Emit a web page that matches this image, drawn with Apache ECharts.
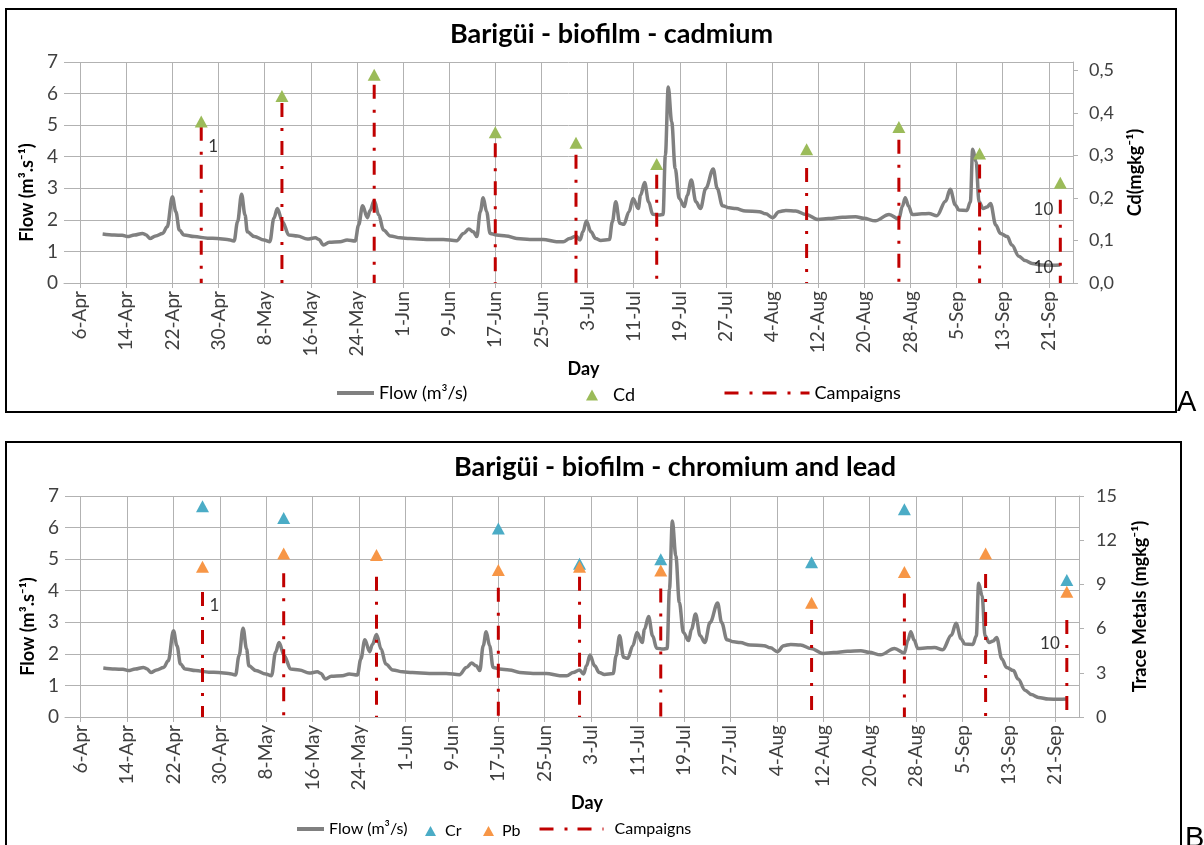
<!DOCTYPE html>
<html>
<head>
<meta charset="utf-8">
<title>Barigüi - biofilm</title>
<script src="https://cdn.jsdelivr.net/npm/echarts@6/dist/echarts.min.js"></script>
<style>
  html, body { margin: 0; padding: 0; background: #fff; }
  #chart { width: 1204px; height: 845px; }
</style>
</head>
<body>
<div id="chart"></div>
<script>
// days counted from 6-Apr (day 0)
const tickDays = [0, 8, 16, 24, 32, 40, 48, 56, 64, 72, 80, 88, 96, 104, 112, 120, 128, 136, 144, 152, 160, 168];
const tickLabels = ['6-Apr', '14-Apr', '22-Apr', '30-Apr', '8-May', '16-May', '24-May', '1-Jun', '9-Jun', '17-Jun', '25-Jun',
  '3-Jul', '11-Jul', '19-Jul', '27-Jul', '4-Aug', '12-Aug', '20-Aug', '28-Aug', '5-Sep', '13-Sep', '21-Sep'];

// flow (m3/s)
const flowDays = [3.9, 5.9, 7.3, 8.2, 9.4, 10.8, 11.4, 12.1, 13.1, 14.3, 15.1, 16.0, 16.6, 17.2, 18.0, 19.8, 22.1, 23.8, 25.5, 26.7,
  27.3, 28.0, 28.6, 29.0, 30.2, 31.9, 32.9, 33.6, 34.2, 35.1, 36.2, 37.7, 39.4, 40.8, 41.4, 42.2, 43.2, 45.1, 46.3, 47.7,
  48.3, 49.0, 49.8, 50.3, 51.0, 51.8, 52.6, 53.8, 55.5, 57.2, 60.1, 63.0, 65.3, 66.5, 67.4, 68.2, 68.8, 69.4, 69.9, 70.5,
  71.1, 72.2, 73.9, 75.7, 78.0, 80.3, 82.6, 83.8, 84.9, 86.0, 86.7, 87.2, 87.8, 88.6, 89.4, 90.3, 91.8, 92.3, 92.9, 93.6,
  94.3, 95.2, 95.9, 96.8, 97.2, 97.9, 98.6, 99.3, 100.4, 101.1, 101.5, 102.0, 102.6, 103.2, 103.9, 104.8, 105.3, 106.0, 106.8, 107.6,
  108.5, 109.8, 110.5, 111.4, 112.6, 113.7, 115.4, 117.8, 118.9, 120.1, 121.2, 122.4, 124.1, 125.9, 128.0, 129.8, 132.2, 134.5, 135.9, 137.9,
  140.3, 142.0, 142.6, 143.1, 143.7, 144.3, 146.0, 147.2, 148.6, 150.1, 150.9, 151.8, 152.4, 153.8, 154.4, 154.8, 155.4, 155.9, 156.6, 157.3,
  157.9, 158.8, 159.6, 160.8, 161.6, 162.8, 163.9, 165.1, 166.8, 168.6, 170.0];
const flowValues = [1.55, 1.52, 1.51, 1.47, 1.52, 1.57, 1.53, 1.41, 1.49, 1.57, 1.78, 2.73, 2.26, 1.68, 1.52, 1.47, 1.42, 1.41, 1.38, 1.33,
  1.94, 2.81, 2.15, 1.62, 1.47, 1.36, 1.31, 2.05, 2.36, 1.94, 1.52, 1.49, 1.39, 1.43, 1.38, 1.20, 1.29, 1.31, 1.36, 1.33,
  1.84, 2.45, 2.07, 2.30, 2.61, 2.15, 1.68, 1.49, 1.43, 1.41, 1.38, 1.38, 1.34, 1.57, 1.71, 1.62, 1.47, 2.26, 2.70, 2.26,
  1.57, 1.52, 1.49, 1.41, 1.38, 1.38, 1.31, 1.31, 1.41, 1.49, 1.36, 1.62, 1.96, 1.62, 1.41, 1.35, 1.38, 1.94, 2.57, 1.89,
  1.86, 2.26, 2.68, 2.36, 2.78, 3.18, 2.57, 2.18, 2.15, 2.17, 4.05, 6.21, 5.10, 3.63, 2.68, 2.42, 2.78, 3.26, 2.57, 2.36,
  2.99, 3.61, 2.99, 2.45, 2.38, 2.36, 2.28, 2.26, 2.19, 2.07, 2.26, 2.30, 2.28, 2.17, 2.01, 2.04, 2.08, 2.10, 2.05, 1.97,
  2.17, 2.03, 2.43, 2.70, 2.43, 2.17, 2.19, 2.20, 2.13, 2.59, 2.97, 2.47, 2.31, 2.30, 2.57, 4.24, 3.84, 2.57, 2.36, 2.41,
  2.52, 1.84, 1.57, 1.47, 1.20, 0.85, 0.71, 0.62, 0.57, 0.56, 0.57];

// sampling campaigns 1..10
const campaignDays = [21, 35, 51, 72, 86, 100, 126, 142, 156, 170];
const campaignTopA = [4.95, 5.70, 6.28, 4.43, 4.06, 3.43, 3.64, 4.54, 3.75, 2.64];
const campaignTopB = [3.96, 4.55, 4.44, 4.09, 4.44, 4.07, 3.07, 3.91, 4.53, 3.07];

// metals (mg/kg)
const cdValues = [0.38, 0.44, 0.49, 0.355, 0.33, 0.28, 0.315, 0.367, 0.305, 0.236];
const crDays = [21, 35, 72, 86, 100, 126, 142, 170];
const crValues = [14.3, 13.5, 12.8, 10.4, 10.7, 10.5, 14.1, 9.3];
const pbValues = [10.2, 11.1, 11.0, 9.97, 10.2, 9.94, 7.76, 9.85, 11.1, 8.5];

const cdTicks = [0, 0.1, 0.2, 0.3, 0.4, 0.5];

// campaign number labels
const labelDaysA = [21, 170, 170];
const labelFlowA = [4.33, 2.32, 0.5];
const labelTextA = ['1', '10', '10'];
const labelDaysB = [21, 170];
const labelFlowB = [3.54, 2.33];
const labelTextB = ['1', '10'];

const FONT = 'Lato, "Open Sans", sans-serif';
const GRID_COLOR = '#B2B2B2';
const TEXT_COLOR = '#404040';

const pairs = (xs, ys) => xs.map((x, i) => [x, ys[i]]);

const campaignData = (tops) => {
  const out = [];
  campaignDays.forEach((d, i) => {
    out.push([d, tops[i]], [d, 0], [d, '-']);
  });
  return out;
};

const labelData = (days, flows, texts) => days.map((d, i) => ({
  value: [d, flows[i]],
  label: { formatter: texts[i], position: texts[i] === '1' ? 'right' : 'left' }
}));

const makeXAxis = (gridIndex, min, max) => ({
  type: 'value',
  gridIndex: gridIndex,
  min: min,
  max: max,
  name: 'Day',
  nameLocation: 'middle',
  nameGap: 66,
  nameTextStyle: { fontSize: 18, fontWeight: 'bold', color: '#000', padding: [0, 0, 0, 30] },
  axisLine: { show: true, onZero: false, lineStyle: { color: GRID_COLOR } },
  axisTick: { show: true, length: 5, customValues: tickDays, lineStyle: { color: GRID_COLOR } },
  axisLabel: {
    rotate: 90, fontSize: 19, color: TEXT_COLOR, margin: 8, customValues: tickDays,
    formatter: (v) => tickLabels[tickDays.indexOf(Math.round(v))] || ''
  },
  splitLine: { show: true, lineStyle: { color: GRID_COLOR } }
});

const makeFlowAxis = (gridIndex) => ({
  type: 'value',
  gridIndex: gridIndex,
  position: 'left',
  min: 0, max: 7, interval: 1,
  name: 'Flow (m³.s⁻¹)',
  nameLocation: 'middle',
  nameGap: 22,
  nameRotate: 90,
  nameTextStyle: { fontSize: 18, fontWeight: 'bold', color: '#000', padding: [0, 40, 0, 0] },
  axisLine: { show: false },
  axisTick: { show: false },
  axisLabel: { fontSize: 19, color: TEXT_COLOR, margin: 6 },
  splitLine: { show: true, lineStyle: { color: GRID_COLOR } }
});

const flowSeries = (xi, yi) => ({
  name: 'Flow (m³/s)',
  type: 'line',
  xAxisIndex: xi, yAxisIndex: yi,
  data: pairs(flowDays, flowValues),
  symbol: 'none',
  smooth: 0.35,
  smoothMonotone: 'x',
  itemStyle: { color: '#808080' },
  lineStyle: { color: '#808080', width: 3.5 },
  z: 2
});

const campaignSeries = (xi, yi, tops) => ({
  name: 'Campaigns',
  type: 'line',
  xAxisIndex: xi, yAxisIndex: yi,
  data: campaignData(tops),
  symbol: 'none',
  connectNulls: false,
  itemStyle: { color: '#C00000' },
  lineStyle: { color: '#C00000', width: 3, type: [14, 11, 3, 10] },
  z: 3
});

const triangleSeries = (name, color, xi, yi, days, values) => ({
  name: name,
  type: 'scatter',
  xAxisIndex: xi, yAxisIndex: yi,
  data: pairs(days, values),
  symbol: 'triangle',
  symbolSize: [13, 12],
  itemStyle: { color: color, opacity: 1 },
  z: 4
});

const labelSeries = (xi, yi, data) => ({
  type: 'scatter',
  xAxisIndex: xi, yAxisIndex: yi,
  data: data,
  symbolSize: 0,
  silent: true,
  label: { show: true, fontSize: 17, color: '#000', distance: 7 },
  z: 5
});

const HIDDEN_SYMBOL = { color: 'rgba(0,0,0,0)', borderColor: 'rgba(0,0,0,0)', borderWidth: 0 };

const oneLegend = (name, left, top, w, h, size, pad, lineWidth) => {
  const lg = {
    data: [name],
    left: left, top: top,
    orient: 'horizontal',
    padding: 0,
    itemWidth: w, itemHeight: h,
    selectedMode: false,
    textStyle: { fontSize: size, color: '#000', padding: [0, 0, 0, pad] }
  };
  if (lineWidth) {
    lg.itemStyle = HIDDEN_SYMBOL;
    lg.lineStyle = { width: lineWidth };
  }
  return lg;
};

const chart = echarts.init(document.getElementById('chart'));

const option = {
  animation: false,
  backgroundColor: '#fff',
  textStyle: { fontFamily: FONT },
  title: [
    { text: 'Barigüi - biofilm - cadmium', left: 450, top: 21, padding: 0,
      textStyle: { fontSize: 27, fontWeight: 'bold', color: '#000' } },
    { text: 'Barigüi - biofilm - chromium and lead', left: 454, top: 454, padding: 0,
      textStyle: { fontSize: 27, fontWeight: 'bold', color: '#000' } }
  ],
  legend: [
    oneLegend('Flow (m³/s)', 335, 384, 37, 14, 18, 0, 4),
    oneLegend('Cd', 586, 386, 12, 11, 18, 10, 0),
    oneLegend('Campaigns', 723, 384, 85, 14, 18, 0, 3),
    oneLegend('Flow (m³/s)', 295, 821, 27, 14, 16, 0, 4),
    oneLegend('Cr', 425, 823, 11, 10, 16, 4, 0),
    oneLegend('Pb', 483, 823, 11, 10, 16, 3, 0),
    oneLegend('Campaigns', 538, 821, 64, 14, 16, 6, 3)
  ],
  grid: [
    { left: 64, top: 62, right: 131, height: 221, outerBoundsMode: 'none' },
    { left: 65, top: 496, right: 125, height: 221, outerBoundsMode: 'none' }
  ],
  xAxis: [
    makeXAxis(0, -2.8, 172.2),
    makeXAxis(1, -2.7, 172.1)
  ],
  yAxis: [
    makeFlowAxis(0),
    {
      type: 'value', gridIndex: 0, position: 'right',
      min: 0, max: 0.52,
      name: 'Cd(mgkg⁻¹)', nameLocation: 'middle', nameGap: 53, nameRotate: 90,
      nameTextStyle: { fontSize: 18, fontWeight: 'bold', color: '#000' },
      axisLine: { show: true, lineStyle: { color: GRID_COLOR } },
      axisTick: { show: true, length: 5, customValues: cdTicks, lineStyle: { color: GRID_COLOR } },
      axisLabel: { fontSize: 18, color: TEXT_COLOR, margin: 16, customValues: cdTicks,
        formatter: (v) => v.toFixed(1).replace('.', ',') },
      splitLine: { show: false }
    },
    makeFlowAxis(1),
    {
      type: 'value', gridIndex: 1, position: 'right',
      min: 0, max: 15, interval: 3,
      name: 'Trace Metals (mgkg⁻¹)', nameLocation: 'middle', nameGap: 52, nameRotate: 90,
      nameTextStyle: { fontSize: 18, fontWeight: 'bold', color: '#000' },
      axisLine: { show: true, lineStyle: { color: GRID_COLOR } },
      axisTick: { show: true, length: 5, lineStyle: { color: GRID_COLOR } },
      axisLabel: { fontSize: 18, color: TEXT_COLOR, margin: 17 },
      splitLine: { show: false }
    }
  ],
  series: [
    flowSeries(0, 0),
    campaignSeries(0, 0, campaignTopA),
    triangleSeries('Cd', '#9BBB59', 0, 1, campaignDays, cdValues),
    labelSeries(0, 0, labelData(labelDaysA, labelFlowA, labelTextA)),

    flowSeries(1, 2),
    campaignSeries(1, 2, campaignTopB),
    triangleSeries('Cr', '#4BACC6', 1, 3, crDays, crValues),
    triangleSeries('Pb', '#F79646', 1, 3, campaignDays, pbValues),
    labelSeries(1, 2, labelData(labelDaysB, labelFlowB, labelTextB))
  ],
  graphic: [
    { type: 'rect', silent: true, shape: { x: 6, y: 9, width: 1170, height: 403 },
      style: { fill: null, stroke: '#000', lineWidth: 2 } },
    { type: 'rect', silent: true, shape: { x: 6, y: 442, width: 1175, height: 430 },
      style: { fill: null, stroke: '#000', lineWidth: 2 } },
    { type: 'text', silent: true, x: 1177, y: 388,
      style: { text: 'A', fontSize: 29, fontFamily: '"Liberation Sans", Arial, sans-serif', fill: '#000' } },
    { type: 'text', silent: true, x: 1185, y: 824,
      style: { text: 'B', fontSize: 29, fontFamily: '"Liberation Sans", Arial, sans-serif', fill: '#000' } }
  ]
};

chart.setOption(option);
window.addEventListener('resize', chart.resize);
</script>
</body>
</html>
